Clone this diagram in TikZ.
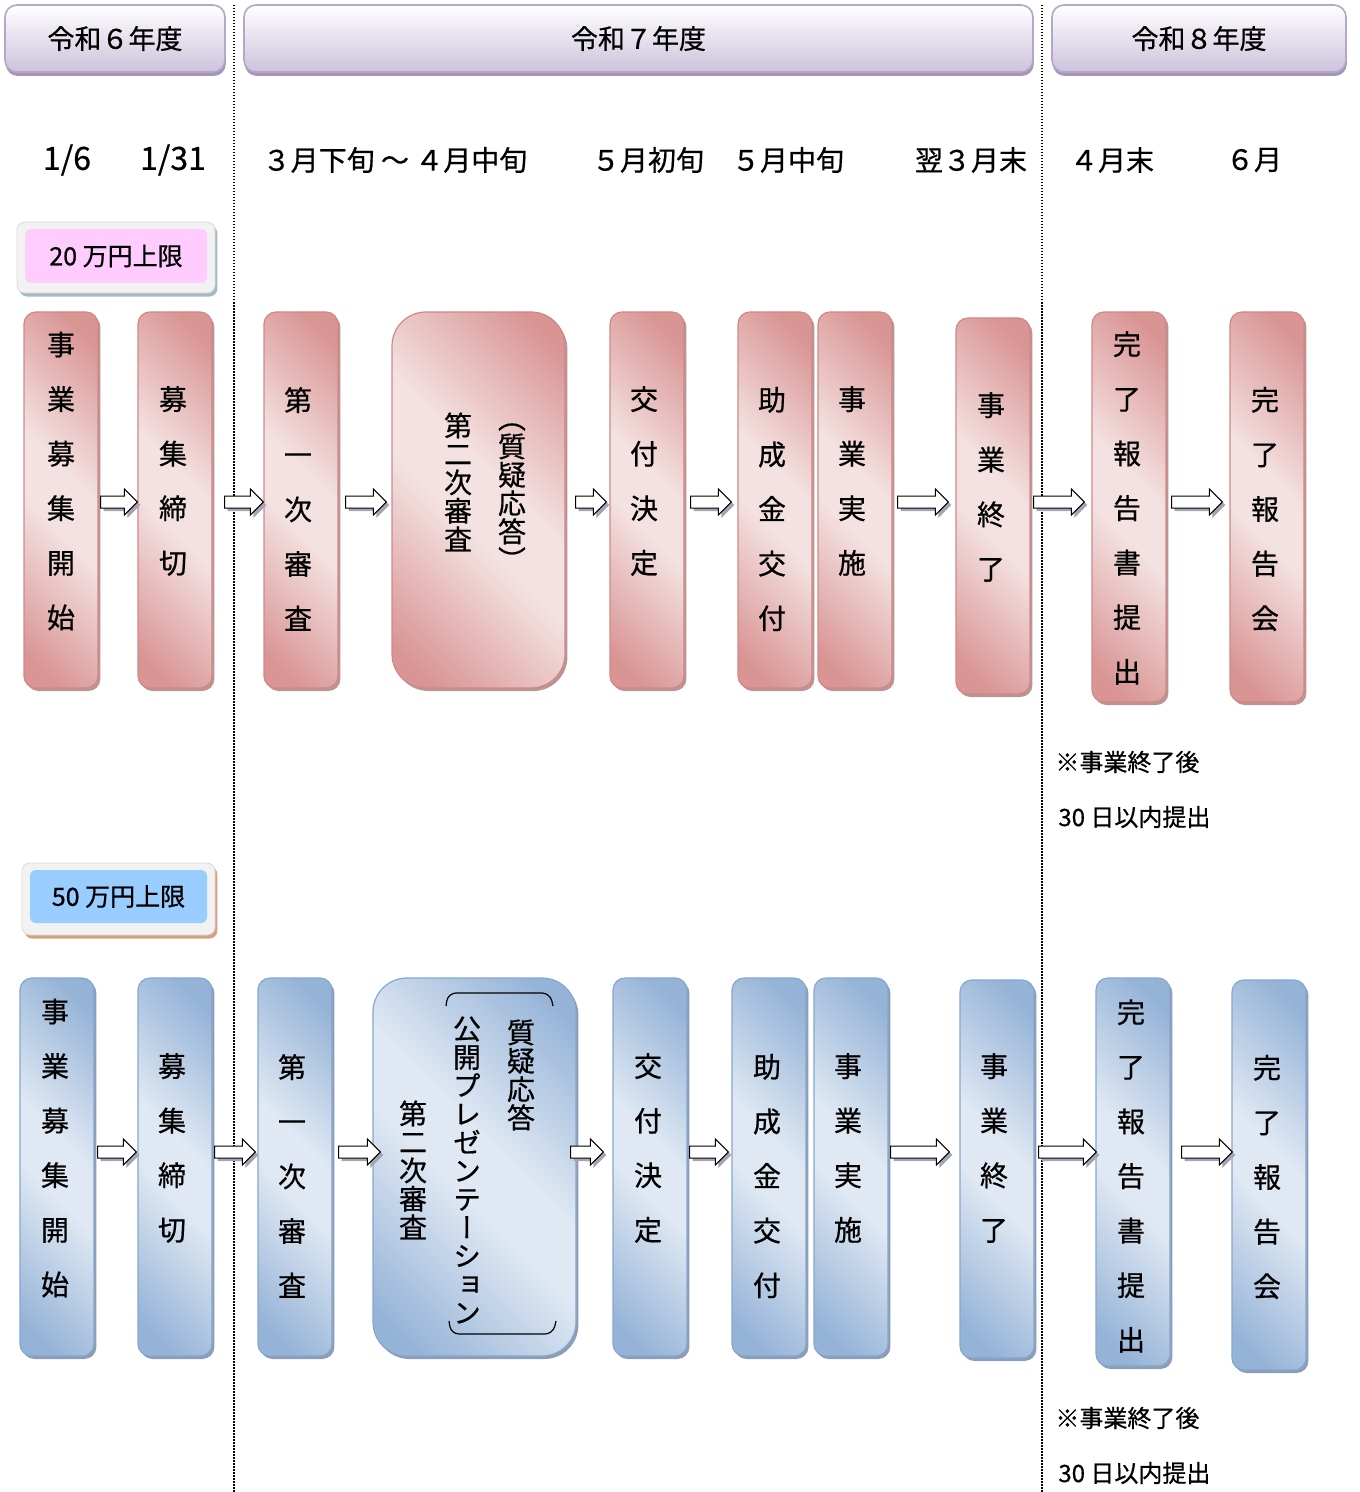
\documentclass[tikz,border=0pt]{standalone}
\usepackage{fontspec}
\setmainfont{Noto Sans CJK JP}[FakeBold=0.6]
\newfontfamily\tatefont{Noto Sans CJK JP}[RawFeature=+vert, FakeBold=0.6]
\usetikzlibrary{shadows,calc}

\definecolor{pinkD}{HTML}{D99594}
\definecolor{pinkL}{HTML}{F4E2E2}
\definecolor{pinkE}{HTML}{D08887}
\definecolor{pinkS}{HTML}{BC9494}
\definecolor{blueD}{HTML}{95B3D7}
\definecolor{blueL}{HTML}{DFE8F3}
\definecolor{blueE}{HTML}{86A6D0}
\definecolor{blueS}{HTML}{8C9DB4}
\definecolor{yearB}{HTML}{CDC2DC}
\definecolor{yearE}{HTML}{B6A6CA}
\definecolor{yearS}{HTML}{A596B9}
\definecolor{capPink}{HTML}{FFCCFF}
\definecolor{capBlue}{HTML}{99CCFF}
\definecolor{capOut}{HTML}{F2F2F2}
\definecolor{capSA}{HTML}{A3BBC2}
\definecolor{capSB}{HTML}{D4A27F}
\definecolor{arrowS}{HTML}{A4A4B4}

\pgfdeclareverticalshading{pinkshade}{100bp}{color(0bp)=(pinkD); color(20bp)=(pinkD);
  color(45bp)=(pinkL); color(55bp)=(pinkL); color(80bp)=(pinkD); color(100bp)=(pinkD)}
\pgfdeclareverticalshading{blueshade}{100bp}{color(0bp)=(blueD); color(20bp)=(blueD);
  color(45bp)=(blueL); color(55bp)=(blueL); color(80bp)=(blueD); color(100bp)=(blueD)}

\tikzset{
  stepbox/.style={rectangle, rounded corners=6pt, line width=0.6pt, inner sep=0pt,
    minimum width=37pt, minimum height=188pt},
  pinkbox/.style={stepbox, draw=pinkE, shading=pinkshade, shading angle=-45,
    drop shadow={shadow xshift=1.2pt, shadow yshift=-1.5pt, fill=pinkS, opacity=1}},
  bluebox/.style={stepbox, draw=blueE, shading=blueshade, shading angle=-45,
    drop shadow={shadow xshift=1.2pt, shadow yshift=-1.5pt, fill=blueS, opacity=1}},
  yearbox/.style={rectangle, rounded corners=6pt, draw=yearE, line width=0.8pt, top color=white,
    bottom color=yearB, minimum height=33.5pt, font=\fontsize{13.5}{16}\selectfont,
    drop shadow={shadow xshift=0.4pt, shadow yshift=-2pt, fill=yearS, opacity=1}},
  capouter/.style={rectangle, rounded corners=4pt, fill=capOut, draw=white!85!black, line width=0.4pt},
  capinner/.style={rectangle, rounded corners=3pt, font=\fontsize{12.5}{14}\selectfont},
  tate/.style={font=\tatefont\fontsize{14}{27.3}\selectfont, align=center, inner sep=0pt},
  tatetight/.style={font=\tatefont\fontsize{14}{14.2}\selectfont, align=center, inner sep=0pt},
  datelabel/.style={font=\fontsize{14}{16}\selectfont, inner sep=0pt},
  note/.style={anchor=west, font=\fontsize{12}{14}\selectfont, inner sep=0pt},
  divider/.style={line width=0.75pt, dash pattern=on 0.75pt off 0.75pt},
  flowarr/.style={draw=black, fill=white, line width=0.5pt,
    drop shadow={shadow xshift=1.5pt, shadow yshift=-1.5pt, fill=arrowS, opacity=1}},
}

% block arrow from box #1 to box #2 at height #3, gaps #4 and #5 (px)
\newcommand{\flowarrow}[5]{%
  \path[flowarr] let \p1=(#1.east), \p2=(#2.west), \p3=(0,#3),
      \n1={\x1+(#4)*0.5pt}, \n2={\x2-(#5)*0.5pt}, \n3={\x2-(#5)*0.5pt-6.5pt} in
    (\n1,{\y3+3pt}) -- (\n3,{\y3+3pt}) -- (\n3,{\y3+6.5pt}) -- (\n2,\y3)
    -- (\n3,{\y3-6.5pt}) -- (\n3,{\y3-3pt}) -- (\n1,{\y3-3pt}) -- cycle;}

\begin{document}
\begin{tikzpicture}[x=0.5pt, y=-0.5pt]
    \useasboundingbox (0,0) rectangle (1359,1492);

    % fiscal years
    \node at (115,38.5) [yearbox, minimum width=110pt] (YearR6) {令和６年度};
    \node at (638.5,38.5) [yearbox, minimum width=394.5pt] (YearR7) {令和７年度};
    \node at (1199,38.5) [yearbox, minimum width=147pt] (YearR8) {令和８年度};

    \draw[divider] (234,5) -- (234,1492);
    \draw[divider] (1042,5) -- (1042,1492);

    % dates
    \node at (67,160) [datelabel, font=\fontsize{16}{18}\selectfont] (DateA) {1/6};
    \node at (173,160) [datelabel, font=\fontsize{16}{18}\selectfont] (DateB) {1/31};
    \node at (395,160) [datelabel] (DateC) {３月下旬 ～ ４月中旬};
    \node at (648,160) [datelabel] (DateD) {５月初旬};
    \node at (788,160) [datelabel] (DateE) {５月中旬};
    \node at (971,160) [datelabel] (DateF) {翌３月末};
    \node at (1112,160) [datelabel] (DateG) {４月末};
    \node at (1254,160) [datelabel] (DateH) {６月};

    % 20 man-yen course
    \node at (116,257.5) [capouter, minimum width=99pt, minimum height=35.5pt,
        drop shadow={shadow xshift=1.2pt, shadow yshift=-1.8pt, fill=capSA, opacity=1}] (CapA) {};
    \node at (116,256) [capinner, fill=capPink, minimum width=91pt, minimum height=27pt] (CapAText) {20 万円上限};

    \node at (61,500) [pinkbox] (StartA) {};
    \node at (175,500) [pinkbox] (CloseA) {};
    \node at (301,500) [pinkbox] (FirstA) {};
    \node at (478.5,500) [pinkbox, rounded corners=17pt, minimum width=86.5pt] (SecondA) {};
    \node at (647,500) [pinkbox] (DecideA) {};
    \node at (775,500) [pinkbox] (GrantA) {};
    \node at (855,500) [pinkbox] (RunA) {};
    \node at (993,506) [pinkbox] (EndA) {};
    \node at (1129,507) [pinkbox, minimum height=195pt] (ReportA) {};
    \node at (1267,507) [pinkbox, minimum height=195pt] (MeetingA) {};

    \node at (61,481) [tate] (StartAText) {事\\業\\募\\集\\開\\始};
    \node at (173,481) [tate] (CloseAText) {募\\集\\締\\切};
    \node at (298,509) [tate] (FirstAText) {第\\一\\次\\審\\査};
    \node at (458,482) [tatetight] (SecondAText) {第\\二\\次\\審\\査};
    \node at (512,497) [tatetight] (SecondANote) {（\\質\\疑\\応\\答\\）};
    \node at (644,481) [tate] (DecideAText) {交\\付\\決\\定};
    \node at (772,509) [tate] (GrantAText) {助\\成\\金\\交\\付};
    \node at (852,481) [tate] (RunAText) {事\\業\\実\\施};
    \node at (991,487) [tate] (EndAText) {事\\業\\終\\了};
    \node at (1127,508) [tate] (ReportAText) {完\\了\\報\\告\\書\\提\\出};
    \node at (1265,509) [tate] (MeetingAText) {完\\了\\報\\告\\会};

    \flowarrow{StartA}{CloseA}{502}{2}{0}
    \flowarrow{CloseA}{FirstA}{502}{12}{0}
    \flowarrow{FirstA}{SecondA}{502}{7}{5}
    \flowarrow{SecondA}{DecideA}{502}{10}{3}
    \flowarrow{DecideA}{GrantA}{502}{6}{6}
    \flowarrow{RunA}{EndA}{502}{5}{7}
    \flowarrow{EndA}{ReportA}{502}{3}{7}
    \flowarrow{ReportA}{MeetingA}{502}{5}{7}

    \node at (1055,762) [note] (NoteA1) {※事業終了後};
    \node at (1058,817) [note] (NoteA2) {30 日以内提出};

    % 50 man-yen course
    \node at (118.5,899) [capouter, minimum width=96.5pt, minimum height=36pt,
        drop shadow={shadow xshift=1.2pt, shadow yshift=-1.8pt, fill=capSB, opacity=1}] (CapB) {};
    \node at (118.5,896.5) [capinner, fill=capBlue, minimum width=88.5pt, minimum height=26.5pt] (CapBText) {50 万円上限};

    \node at (57,1167) [bluebox, minimum height=189pt] (StartB) {};
    \node at (175,1167) [bluebox, minimum height=189pt] (CloseB) {};
    \node at (295,1167) [bluebox, minimum height=189pt] (FirstB) {};
    \node at (474.5,1167) [bluebox, rounded corners=17pt, minimum width=101.5pt, minimum height=189pt] (SecondB) {};
    \node at (650,1167) [bluebox, minimum height=189pt] (DecideB) {};
    \node at (769,1167) [bluebox, minimum height=189pt] (GrantB) {};
    \node at (851,1167) [bluebox, minimum height=189pt] (RunB) {};
    \node at (997,1169) [bluebox, minimum height=189pt] (EndB) {};
    \node at (1133,1172) [bluebox, minimum height=194pt] (ReportB) {};
    \node at (1269,1175) [bluebox, minimum height=195pt] (MeetingB) {};

    \node at (55,1148) [tate] (StartBText) {事\\業\\募\\集\\開\\始};
    \node at (172,1148) [tate] (CloseBText) {募\\集\\締\\切};
    \node at (292,1176) [tate] (FirstBText) {第\\一\\次\\審\\査};
    \node at (413,1170) [tatetight] (SecondBText) {第\\二\\次\\審\\査};
    \node at (467,1170) [tatetight] (SecondBPres) {公\\開\\プ\\レ\\ゼ\\ン\\テ\\ー\\シ\\ョ\\ン};
    \node at (521,1075) [tatetight] (SecondBQa) {質\\疑\\応\\答};
    \node at (648,1148) [tate] (DecideBText) {交\\付\\決\\定};
    \node at (767,1176) [tate] (GrantBText) {助\\成\\金\\交\\付};
    \node at (848,1148) [tate] (RunBText) {事\\業\\実\\施};
    \node at (994,1148) [tate] (EndBText) {事\\業\\終\\了};
    \node at (1131,1176) [tate] (ReportBText) {完\\了\\報\\告\\書\\提\\出};
    \node at (1267,1177) [tate] (MeetingBText) {完\\了\\報\\告\\会};

    % brackets round the presentation
    \draw[line width=0.6pt, rounded corners=4pt] (446,1006) -- (448,993) -- (550,993) -- (553,1006);
    \draw[line width=0.6pt, rounded corners=4pt] (449,1321) -- (451,1334) -- (553,1334) -- (556,1321);

    \flowarrow{StartB}{CloseB}{1152}{3}{1}
    \flowarrow{CloseB}{FirstB}{1152}{2}{2}
    \flowarrow{FirstB}{SecondB}{1152}{6}{-8}
    \flowarrow{SecondB}{DecideB}{1152}{-6}{9}
    \flowarrow{DecideB}{GrantB}{1152}{2}{3}
    \flowarrow{RunB}{EndB}{1152}{2}{10}
    \flowarrow{EndB}{ReportB}{1152}{4}{-1}
    \flowarrow{ReportB}{MeetingB}{1152}{11}{-1}

    \node at (1055,1418) [note] (NoteB1) {※事業終了後};
    \node at (1058,1473) [note] (NoteB2) {30 日以内提出};
\end{tikzpicture}
\end{document}
